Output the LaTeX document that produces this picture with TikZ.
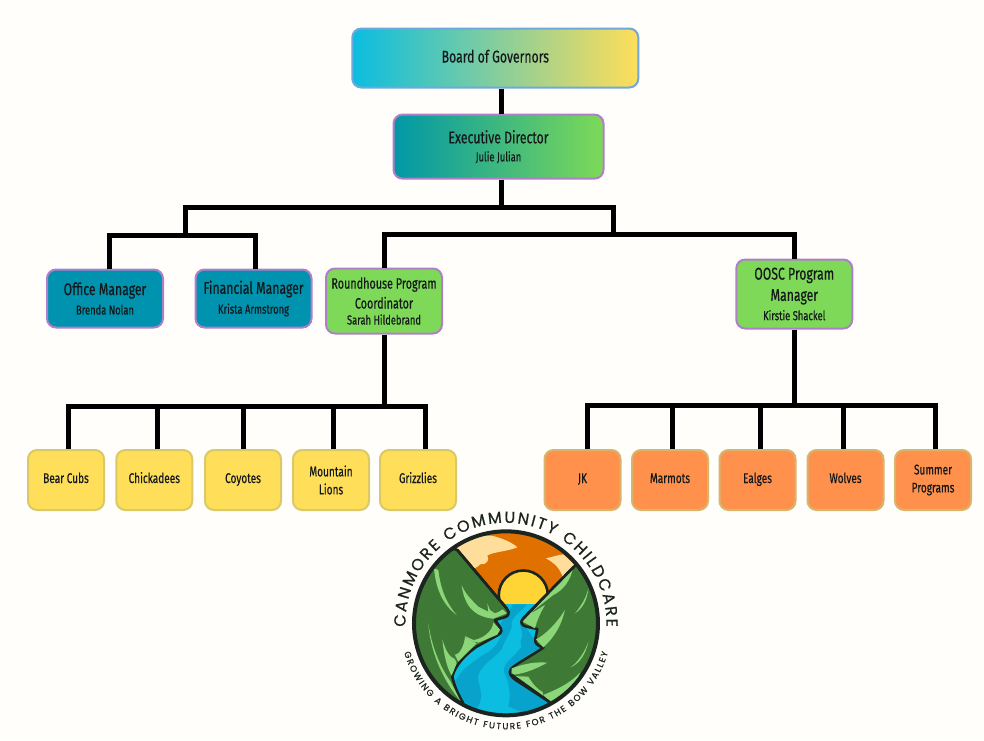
\documentclass[tikz,border=0pt]{standalone}
\usepackage{fontspec}
\setmainfont[FakeStretch=0.72,FakeBold=0.35]{Fira Sans}
\newfontfamily\logofont[FakeBold=0.7]{Poppins}
\usetikzlibrary{decorations.text}
\definecolor{bgc}{HTML}{FFFEFB}
\definecolor{teal}{HTML}{0093AF}
\definecolor{tealb}{HTML}{0097A7}
\definecolor{grn}{HTML}{7DD957}
\definecolor{yel}{HTML}{FFDE59}
\definecolor{org}{HTML}{FF914D}
\definecolor{purp}{HTML}{B07FC8}
\definecolor{bluee}{HTML}{6FA8DC}
\definecolor{yelb}{HTML}{D9C968}
\definecolor{orgb}{HTML}{D8B56C}
\definecolor{ink}{HTML}{14181A}
\definecolor{sky}{HTML}{E07000}
\definecolor{cloud}{HTML}{FFDE9C}
\definecolor{sun}{HTML}{FFD535}
\definecolor{wat}{HTML}{0BBDE0}
\definecolor{watd}{HTML}{08A3CC}
\definecolor{mnt}{HTML}{3E7A35}
\definecolor{mntl}{HTML}{8CD67A}
\definecolor{lk}{HTML}{1C2420}
\newcommand{\ttl}[1]{{\fontsize{17}{19}\selectfont #1}}
\newcommand{\lbl}[1]{{\fontsize{15}{18}\selectfont #1}}
\newcommand{\sbt}[1]{{\fontsize{13}{16}\selectfont #1}}
\newcommand{\grp}[1]{{\fontsize{14}{18.5}\selectfont #1}}
\tikzset{
  orgbox/.style={rounded corners=9pt,line width=2pt,align=center,text=ink,inner sep=0pt},
  mgr/.style={orgbox,draw=purp},
  yelbox/.style={orgbox,draw=yelb,fill=yel,minimum width=76pt,minimum height=60pt},
  orgbxx/.style={orgbox,draw=orgb,fill=org,minimum width=76pt,minimum height=60pt},
  oneline/.style={text height=10pt,text depth=4pt},
  wire/.style={draw=black,line width=5pt,line join=miter,line cap=butt},
  lkline/.style={draw=lk,line width=2.6pt,line join=round}
}
\begin{document}
\begin{tikzpicture}[x=1pt,y=1pt]
\path[use as bounding box,fill=bgc] (0,0) rectangle (984,-740);

% junctions
\coordinate (top) at (501.5,-207);
\coordinate (leftj) at (185,-235);
\coordinate (rightj) at (613,-234);
\coordinate (ybus) at (384,-406.5);
\coordinate (obus) at (794.3,-405.5);

% boxes
\node[orgbox,draw=bluee,left color=wat,right color=yel,minimum width=286pt,minimum height=59pt,text height=13pt,text depth=4pt] (board) at (495.3,-58) {\ttl{Board of Governors}};
\node[mgr,left color=tealb,right color=grn,minimum width=210pt,minimum height=64pt] (exec) at (498.5,-146.6) {\ttl{Executive Director}\\[6pt]\sbt{Julie Julian}};
\node[mgr,fill=teal,minimum width=116pt,minimum height=58pt] (office) at (105,-298.5) {\ttl{Office Manager}\\[5pt]\sbt{Brenda Nolan}};
\node[mgr,fill=teal,minimum width=116pt,minimum height=58pt] (fin) at (253.5,-298.5) {\ttl{Financial Manager}\\[5pt]\sbt{Krista Armstrong}};
\node[mgr,fill=grn,minimum width=116pt,minimum height=65pt] (round) at (384,-301) {\lbl{Roundhouse Program}\\[4pt]\lbl{Coordinator}\\[4pt]\sbt{Sarah Hildebrand}};
\node[mgr,fill=grn,minimum width=116pt,minimum height=69pt] (oosc) at (794.3,-294) {\ttl{OOSC Program}\\[5pt]\ttl{Manager}\\[4.5pt]\sbt{Kirstie Shackel}};
\node[yelbox,oneline] (cubs) at (66,-480) {\grp{Bear Cubs}};
\node[yelbox,oneline] (chick) at (154.3,-480) {\grp{Chickadees}};
\node[yelbox,oneline] (coy) at (243,-480) {\grp{Coyotes}};
\node[yelbox] (lions) at (331,-480) {\grp{Mountain}\\[6pt]\grp{Lions}};
\node[yelbox,oneline] (griz) at (418,-480) {\grp{Grizzlies}};
\node[orgbxx,oneline] (jk) at (582.5,-480) {\grp{JK}};
\node[orgbxx,oneline] (marm) at (670,-480) {\grp{Marmots}};
\node[orgbxx,oneline] (eag) at (757.5,-480) {\grp{Ealges}};
\node[orgbxx,oneline] (wol) at (845.5,-480) {\grp{Wolves}};
\node[orgbxx] (sum) at (933,-480) {\grp{Summer}\\[6pt]\grp{Programs}};

% connectors
\path[wire] ([xshift=6.2pt]board.south) -- ([xshift=3pt]exec.north);
\path[wire] ([xshift=3pt]exec.south) -- (top);
\path[wire] (leftj) |- (top);
\path[wire] (rightj) |- (top);
\path[wire] ([xshift=4pt]office.north) |- (leftj);
\path[wire] ([xshift=1.5pt]fin.north) |- (leftj);
\path[wire] (round.north) |- (rightj);
\path[wire] (oosc.north) |- (rightj);
\path[wire] (round.south) -- (ybus);
\path[wire] ([xshift=2.3pt]cubs.north) |- (ybus);
\path[wire] ([xshift=2.7pt]chick.north) |- (ybus);
\path[wire] ([xshift=.5pt]coy.north) |- (ybus);
\path[wire] ([xshift=2.5pt]lions.north) |- (ybus);
\path[wire] ([xshift=7pt]griz.north) |- (ybus);
\path[wire] (oosc.south) -- (obus);
\path[wire] ([xshift=5.2pt]jk.north) |- (obus);
\path[wire] ([xshift=2.7pt]marm.north) |- (obus);
\path[wire] ([xshift=2.5pt]eag.north) |- (obus);
\path[wire] ([xshift=-2.5pt]wol.north) |- (obus);
\path[wire] ([xshift=2pt]sum.north) |- (obus);

% logo, in the coordinates of a 3x crop at (380,515)
\begin{scope}[shift={(380pt,-515pt)},x=0.3333pt,y=-0.3333pt]
  \begin{scope}
    \clip (378,325) circle[radius=92pt];
    \fill[sky] (90,30) rectangle (670,280);
    \fill[cloud] (225,90) .. controls (270,70) and (300,60) .. (335,62) .. controls (370,70) and (400,85) .. (412,97)
       .. controls (380,110) and (340,110) .. (322,122) .. controls (330,135) and (320,150) .. (300,148)
       .. controls (285,165) and (270,160) .. (262,165) -- cycle;
    \fill[cloud] (498,130) .. controls (520,125) and (535,120) .. (550,118) -- (585,150) -- (550,190)
       .. controls (540,160) and (525,145) .. (498,130) -- cycle;
    \filldraw[fill=sun,draw=lk,line width=2.6pt] (430,240) circle[radius=24.5pt];
    \fill[wat] (90,268) rectangle (670,640);
    % darker water
    \fill[watd] (400,268) .. controls (385,290) and (370,310) .. (360,330) .. controls (375,360) and (350,400) .. (310,420)
       .. controls (270,445) and (240,470) .. (225,500) -- (250,560) -- (290,580)
       .. controls (320,540) and (290,510) .. (295,480) .. controls (310,440) and (360,420) .. (368,395)
       .. controls (375,370) and (400,345) .. (395,325) .. controls (395,305) and (425,290) .. (440,268) -- cycle;
    \fill[watd] (400,320) .. controls (410,340) and (420,370) .. (425,395) .. controls (400,430) and (370,440) .. (372,470)
       .. controls (385,500) and (395,530) .. (385,575) -- (440,596) -- (510,565) -- (395,485) -- (400,450)
       .. controls (440,420) and (470,405) .. (480,400) -- (440,340) -- cycle;
    \fill[wat] (420,300) .. controls (405,320) and (440,350) .. (420,380) .. controls (400,420) and (355,430) .. (352,470)
       .. controls (360,510) and (385,530) .. (375,570) -- (300,575) .. controls (320,540) and (298,510) .. (305,480)
       .. controls (320,445) and (365,430) .. (378,395) .. controls (385,365) and (405,345) .. (395,325) -- cycle;
    % left mountain
    \filldraw[fill=mnt,lkline] (232,105) -- (380,280) .. controls (392,295) and (385,305) .. (370,308) -- (345,315)
       -- (362,340) .. controls (368,350) and (360,358) .. (345,365) -- (290,395)
       .. controls (260,415) and (225,450) .. (217,485) .. controls (222,510) and (235,540) .. (250,565)
       -- (120,620) -- (40,300) -- (150,80) -- cycle;
    % right mountain
    \filldraw[fill=mnt,lkline] (582,155) -- (430,310) .. controls (418,322) and (425,332) .. (440,335) -- (472,342)
       -- (466,372) .. controls (464,385) and (472,392) .. (490,398)
       .. controls (450,425) and (410,445) .. (393,462) .. controls (385,475) and (392,485) .. (410,497)
       -- (510,562) -- (680,620) -- (720,300) -- (640,100) -- cycle;
    % highlights left, crop at (90,135)
    \begin{scope}[shift={(90,135)}]
      \fill[mntl] (72,25) .. controls (78,90) and (100,135) .. (140,165) .. controls (110,130) and (92,90) .. (85,30) -- cycle;
      \fill[mntl] (155,75) .. controls (160,120) and (180,170) .. (250,176) -- (290,160) -- (278,148) .. controls (268,155) and (262,158) .. (255,160)
         -- (240,150) -- (232,130) .. controls (233,140) and (234,148) .. (235,155) -- (205,140) .. controls (180,115) and (165,100) .. (155,75) -- cycle;
      \fill[mntl] (165,228) .. controls (178,240) and (190,245) .. (205,248) -- (262,224) -- (270,208) -- (250,188) .. controls (248,215) and (215,238) .. (190,240) -- cycle;
      \fill[mntl] (55,190) .. controls (62,290) and (110,375) .. (152,424) -- (122,365) .. controls (90,320) and (65,260) .. (55,190) -- cycle;
      \fill[mntl] (97,238) .. controls (102,290) and (112,325) .. (125,347) -- (140,310) -- (135,298) .. controls (115,290) and (105,265) .. (97,238) -- cycle;
      \fill[mntl] (135,285) .. controls (150,283) and (163,255) .. (165,230) -- (200,250) -- (145,305) -- cycle;
    \end{scope}
    % highlights right, crop at (360,135)
    \begin{scope}[shift={(360,135)}]
      \fill[mntl] (220,22) -- (68,185) -- (105,205) .. controls (110,185) and (118,165) .. (135,135) .. controls (125,140) and (105,155) .. (90,160)
         -- (160,105) .. controls (190,90) and (210,65) .. (220,22) -- cycle;
      \fill[mntl] (108,238) .. controls (135,225) and (170,190) .. (195,150) .. controls (185,190) and (170,225) .. (130,262) -- cycle;
      \fill[mntl] (265,85) .. controls (258,115) and (245,135) .. (225,160) .. controls (248,145) and (262,120) .. (265,85) -- cycle;
      \fill[mntl] (265,245) .. controls (255,275) and (235,305) .. (212,322) .. controls (240,310) and (258,280) .. (265,245) -- cycle;
      \fill[mntl] (35,325) .. controls (75,310) and (110,305) .. (142,308) .. controls (110,325) and (80,340) .. (35,345) -- cycle;
      \fill[mntl] (38,348) -- (85,350) .. controls (100,375) and (115,390) .. (128,396) -- (130,410) -- cycle;
      \fill[mntl] (130,405) .. controls (165,390) and (205,375) .. (240,338) .. controls (230,370) and (215,395) .. (150,426) -- cycle;
    \end{scope}
    \draw[lkline] (232,105) -- (380,280);
    \draw[lkline] (582,155) -- (430,310);
    \draw[lkline] (393,478) -- (510,562);
    \draw[lkline] (345,315) -- (362,340);
  \end{scope}
  \draw[draw=lk,line width=4pt] (378,325) circle[radius=92pt];
\end{scope}
\path[decorate,decoration={text along path,text align=fit to path,
   text={|\logofont\color{lk}\fontsize{16}{16}\selectfont|CANMORE COMMUNITY CHILDCARE}}]
   ({506+100.5*cos(182)},{-623.3+100.5*sin(182)}) arc[start angle=182,end angle=-2,radius=100.5pt];
\path[decorate,decoration={text along path,text align=fit to path,
   text={|\logofont\color{lk}\fontsize{8.8}{9}\selectfont|GROWING A BRIGHT FUTURE FOR THE BOW VALLEY}}]
   ({506+106*cos(196)},{-623.3+106*sin(196)}) arc[start angle=196,end angle=344,radius=106pt];
\end{tikzpicture}
\end{document}
